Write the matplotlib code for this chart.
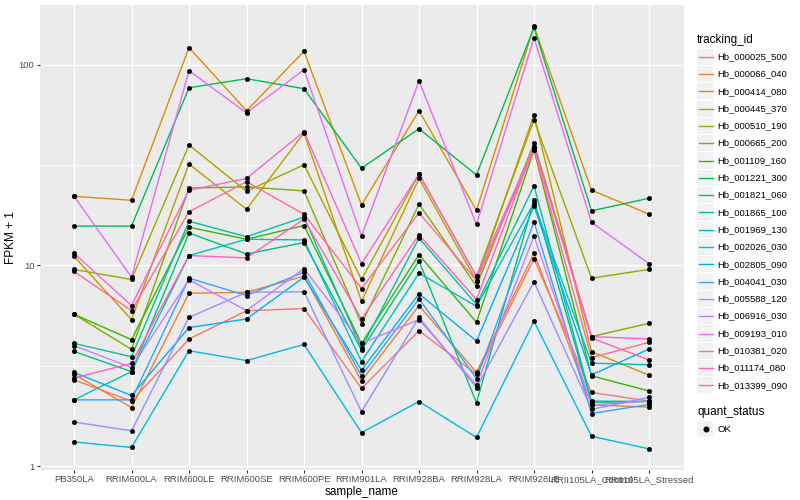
import matplotlib
matplotlib.use("Agg")
import matplotlib.pyplot as plt
import numpy as np
from matplotlib.lines import Line2D
from matplotlib.patches import Rectangle
from matplotlib.ticker import FixedLocator, NullFormatter

plt.rcParams['font.family'] = ['Liberation Sans', 'DejaVu Sans']

samples = ["PB350LA", "RRIM600LA", "RRIM600LE", "RRIM600SE", "RRIM600PE",
           "RRIM901LA", "RRIM928BA", "RRIM928LA", "RRIM928LE",
           "RRII105LA_Control", "RRII105LA_Stressed"]

tracking_ids = ["Hb_000025_500", "Hb_000066_040", "Hb_000414_080", "Hb_000445_370",
                "Hb_000510_190", "Hb_000665_200", "Hb_001109_160", "Hb_001221_300",
                "Hb_001821_060", "Hb_001865_100", "Hb_001969_130", "Hb_002026_030",
                "Hb_002805_090", "Hb_004041_030", "Hb_005588_120", "Hb_006916_030",
                "Hb_009193_010", "Hb_010381_020", "Hb_011174_080", "Hb_013399_090"]

colors = ["#F8766D", "#EA8331", "#D89000", "#C09B00", "#A3A500", "#7CAE00",
          "#39B600", "#00BB4E", "#00BF7D", "#00C1A3", "#00BFC4", "#00BAE0",
          "#00B0F6", "#35A2FF", "#9590FF", "#C77CFF", "#E76BF3", "#FA62DB",
          "#FF62BC", "#FF6C91"]

# FPKM + 1 per sample (order of `samples`)
hb_000025_500 = [2.69, 2.11, 4.30, 5.94, 6.10, 2.44, 4.73, 2.87, 10.8, 2.33, 2.11]
hb_000066_040 = [2.87, 1.96, 7.27, 7.35, 8.84, 2.66, 6.31, 2.93, 11.5, 2.02, 1.97]
hb_000414_080 = [22.1, 21.1, 121.6, 58.9, 116.5, 20.0, 58.9, 18.8, 155.5, 23.7, 18.0]
hb_000445_370 = [11.1, 5.37, 32.0, 19.05, 45.7, 6.63, 27.1, 8.35, 56.2, 3.72, 2.84]
hb_000510_190 = [9.55, 8.51, 39.8, 23.4, 31.7, 8.51, 28.5, 8.81, 53.1, 8.64, 9.55]
hb_000665_200 = [5.71, 3.82, 24.3, 24.6, 23.5, 5.11, 20.2, 7.88, 40.6, 4.42, 5.15]
hb_001109_160 = [5.71, 4.27, 15.5, 13.5, 15.8, 4.09, 11.3, 5.21, 37.6, 2.82, 2.37]
hb_001221_300 = [15.7, 15.7, 76.7, 85.1, 75.9, 30.5, 47.9, 28.2, 153.1, 18.7, 21.6]
hb_001821_060 = [3.73, 2.96, 14.5, 11.4, 13.0, 3.79, 10.5, 2.07, 21.1, 2.08, 2.10]
hb_001865_100 = [4.09, 3.51, 16.6, 13.9, 17.4, 3.88, 13.7, 6.38, 24.9, 2.11, 2.10]
hb_001969_130 = [2.14, 2.96, 11.2, 13.5, 13.4, 3.32, 9.15, 6.26, 20.5, 3.26, 3.20]
hb_002026_030 = [1.32, 1.24, 3.76, 3.36, 4.04, 1.47, 2.10, 1.39, 5.27, 1.41, 1.22]
hb_002805_090 = [2.93, 2.25, 4.90, 5.41, 8.74, 3.01, 7.22, 4.20, 19.8, 2.85, 3.83]
hb_004041_030 = [2.14, 2.14, 8.64, 7.08, 9.26, 2.82, 6.82, 2.73, 16.5, 1.83, 2.03]
hb_005588_120 = [1.66, 1.50, 5.51, 7.35, 7.39, 1.87, 5.51, 2.46, 8.29, 1.92, 2.20]
hb_006916_030 = [3.98, 3.10, 8.48, 5.96, 9.63, 4.09, 5.37, 2.54, 14.0, 2.02, 2.11]
hb_009193_010 = [22.1, 8.74, 93.3, 57.5, 94.4, 14.0, 82.9, 16.0, 136.0, 16.4, 10.2]
hb_010381_020 = [11.5, 6.31, 23.7, 27.1, 46.4, 10.2, 28.5, 8.81, 39.0, 4.42, 4.30]
hb_011174_080 = [2.75, 3.25, 11.2, 10.9, 17.0, 5.41, 14.2, 6.76, 39.0, 4.35, 3.38]
hb_013399_090 = [9.33, 5.96, 18.5, 26.1, 18.0, 7.67, 18.3, 8.41, 37.6, 3.47, 4.14]

series = [hb_000025_500, hb_000066_040, hb_000414_080, hb_000445_370, hb_000510_190,
          hb_000665_200, hb_001109_160, hb_001221_300, hb_001821_060, hb_001865_100,
          hb_001969_130, hb_002026_030, hb_002805_090, hb_004041_030, hb_005588_120,
          hb_006916_030, hb_009193_010, hb_010381_020, hb_011174_080, hb_013399_090]

W, H = 800, 500
fig = plt.figure(figsize=(8, 5), dpi=100)
fig.patch.set_facecolor("white")

def fx(px):
    return px / W

def fy(py):
    return 1 - py / H

pl, pr, pt, pb = 39.5, 683.5, 5, 470
ax = fig.add_axes([fx(pl), fy(pb), (pr - pl) / W, (pb - pt) / H])
ax.set_facecolor("#EBEBEB")
for s in ax.spines.values():
    s.set_visible(False)

x = np.arange(1, len(samples) + 1)
for vals, col in zip(series, colors):
    ax.plot(x, vals, color=col, lw=1.0, zorder=2, solid_capstyle="butt")
for vals in series:
    ax.plot(x, vals, ls="none", marker="o", ms=3.3, mfc="black", mec="black",
            mew=0.3, zorder=3)

ax.set_yscale("log")
allv = np.log10(np.concatenate([np.array(v) for v in series]))
lo, hi = allv.min(), allv.max()
span = hi - lo
ax.set_ylim(10 ** (lo - 0.05 * span), 10 ** (hi + 0.05 * span))
ax.set_xlim(0.4, len(samples) + 0.6)

ax.yaxis.set_major_locator(FixedLocator([1, 10, 100]))
ax.set_yticklabels(["1", "10", "100"])
ax.yaxis.set_minor_locator(FixedLocator([10 ** 0.5, 10 ** 1.5]))
ax.yaxis.set_minor_formatter(NullFormatter())
ax.set_xticks(x)
ax.set_xticklabels(samples)

ax.grid(True, which="major", color="white", lw=1.0, zorder=0)
ax.grid(True, which="minor", axis="y", color="white", lw=0.5, zorder=0)
ax.set_axisbelow(True)
ax.tick_params(which="major", length=2.2, width=0.8, color="#333333",
               labelcolor="#4D4D4D", labelsize=6.8, pad=1.5)
ax.tick_params(which="minor", length=0)

ax.set_xlabel("sample_name", fontsize=8.5, labelpad=1, color="black")
ax.set_ylabel("FPKM + 1", fontsize=8.5, labelpad=1.5, color="black")

# legend: tracking_id
fig.text(fx(697), fy(40), "tracking_id", fontsize=8.5, ha="left", va="center")
step = 17.3
y0 = 56.7
for i, (tid, col) in enumerate(zip(tracking_ids, colors)):
    yc = y0 + i * step
    fig.add_artist(Rectangle((fx(697), fy(yc + step / 2 - 0.6)), (step - 1.2) / W,
                             (step - 1.2) / H, transform=fig.transFigure,
                             facecolor="#F2F2F2", edgecolor="none"))
    fig.add_artist(Line2D([fx(699), fx(712.5)], [fy(yc), fy(yc)],
                          transform=fig.transFigure, color=col, lw=1.0))
    fig.text(fx(717), fy(yc), tid, fontsize=6.8, ha="left", va="center")

# legend: quant_status
fig.text(fx(697), fy(411.7), "quant_status", fontsize=8.5, ha="left", va="center")
yc = 429
fig.add_artist(Rectangle((fx(697), fy(yc + step / 2 - 0.6)), (step - 1.2) / W,
                         (step - 1.2) / H, transform=fig.transFigure,
                         facecolor="#F2F2F2", edgecolor="none"))
fig.add_artist(Line2D([fx(705.5)], [fy(yc)], transform=fig.transFigure,
                      marker="o", ms=3.3, color="black", ls="none"))
fig.text(fx(717), fy(yc), "OK", fontsize=6.8, ha="left", va="center")

fig.savefig("out.png", dpi=100)
